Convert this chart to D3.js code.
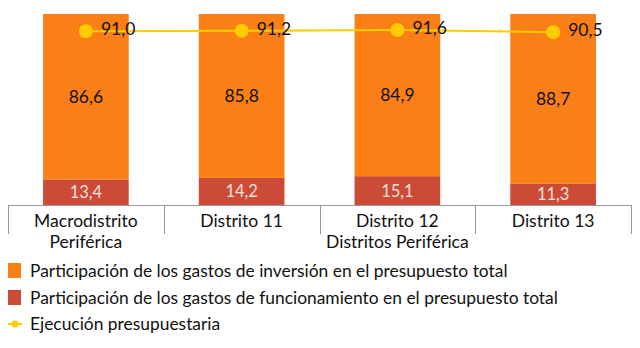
<!DOCTYPE html>
<html><head><meta charset="utf-8">
<script src="https://cdn.jsdelivr.net/npm/d3@7"></script>
<style>body{margin:0;background:#fff}svg{display:block}text{font-family:Lato,"Open Sans",sans-serif}</style>
</head><body>
<svg id="c" width="640" height="348"></svg>
<script>
const categories = [["Macrodistrito","Periférica"],["Distrito 11"],["Distrito 12","Distritos Periférica"],["Distrito 13"]];
const inversion = [86.6, 85.8, 84.9, 88.7];
const funcionamiento = [13.4, 14.2, 15.1, 11.3];
const ejecucion = [91.0, 91.2, 91.6, 90.5];
const legendLabels = ["Participación de los gastos de inversión en el presupuesto total","Participación de los gastos de funcionamiento en el presupuesto total","Ejecución presupuestaria"];
const fmt = v => v.toFixed(1).replace(".", ",");

const ORANGE = "#FA7F17", RED = "#CB4B36", YELLOW = "#FFCC00";
const svg = d3.select("#c");
const idx = d3.range(categories.length);
const x = d3.scaleBand().domain(idx).range([8, 631]).paddingInner(0.45).paddingOuter(0.225);
const y = d3.scaleLinear().domain([0, 100]).range([205, 14]);

// bars
svg.selectAll("rect.f").data(idx).join("rect")
  .attr("x", i => x(i)).attr("width", x.bandwidth())
  .attr("y", i => y(funcionamiento[i])).attr("height", i => y(0) - y(funcionamiento[i]))
  .attr("fill", RED);
svg.selectAll("rect.i").data(idx).join("rect")
  .attr("x", i => x(i)).attr("width", x.bandwidth())
  .attr("y", i => y(funcionamiento[i] + inversion[i])).attr("height", i => y(funcionamiento[i]) - y(funcionamiento[i] + inversion[i]))
  .attr("fill", ORANGE);

// labels
svg.selectAll("text.iv").data(idx).join("text")
  .attr("x", i => x(i) + x.bandwidth()/2).attr("y", i => (y(funcionamiento[i]) + y(100))/2 + 6)
  .attr("text-anchor", "middle").attr("font-size", 17.5).attr("fill", "#111")
  .text(i => fmt(inversion[i]));
svg.selectAll("text.fv").data(idx).join("text")
  .attr("x", i => x(i) + x.bandwidth()/2).attr("y", i => (y(funcionamiento[i]) + y(0))/2 + 6)
  .attr("text-anchor", "middle").attr("font-size", 16.5).attr("fill", "#F6E0DC")
  .text(i => fmt(funcionamiento[i]));

// line
const cx = i => x(i) + x.bandwidth()/2;
svg.append("path").datum(idx)
  .attr("d", d3.line().x(cx).y(i => y(ejecucion[i])))
  .attr("fill", "none").attr("stroke", YELLOW).attr("stroke-width", 2);
svg.selectAll("circle.e").data(idx).join("circle")
  .attr("cx", cx).attr("cy", i => y(ejecucion[i])).attr("r", 7).attr("fill", YELLOW);
svg.selectAll("text.ev").data(idx).join("text")
  .attr("x", i => cx(i) + 15).attr("y", i => y(ejecucion[i]) + 4)
  .attr("font-size", 17.5).attr("fill", "#111")
  .text(i => fmt(ejecucion[i]));

// axis
const axis = svg.append("g").attr("stroke", "#999").attr("stroke-width", 1);
axis.append("line").attr("x1", 8).attr("x2", 631).attr("y1", 205.5).attr("y2", 205.5);
const bounds = idx.map(i => x(i) - x.step()*x.paddingInner()/2).concat([631]);
bounds[0] = 8;
axis.selectAll("line.t").data(bounds).join("line")
  .attr("x1", d => Math.round(d)+0.5).attr("x2", d => Math.round(d)+0.5).attr("y1", 205).attr("y2", 234);
idx.forEach(i => {
  categories[i].forEach((t, k) => {
    svg.append("text").attr("x", cx(i)).attr("y", 227 + k*21)
      .attr("text-anchor", "middle").attr("font-size", 17.5).attr("fill", "#111").text(t);
  });
});

// legend
const lg = svg.append("g");
lg.append("rect").attr("x", 8).attr("y", 263).attr("width", 13).attr("height", 15).attr("fill", ORANGE);
lg.append("rect").attr("x", 8).attr("y", 290).attr("width", 13).attr("height", 15).attr("fill", RED);
lg.append("line").attr("x1", 8).attr("x2", 22).attr("y1", 324).attr("y2", 324).attr("stroke", YELLOW).attr("stroke-width", 2);
lg.append("circle").attr("cx", 15).attr("cy", 324).attr("r", 3.5).attr("fill", YELLOW);
legendLabels.forEach((t, k) => {
  lg.append("text").attr("x", 30).attr("y", 277 + k*26.5).attr("font-size", 17.4).attr("fill", "#111").text(t);
});
</script>
</body></html>
